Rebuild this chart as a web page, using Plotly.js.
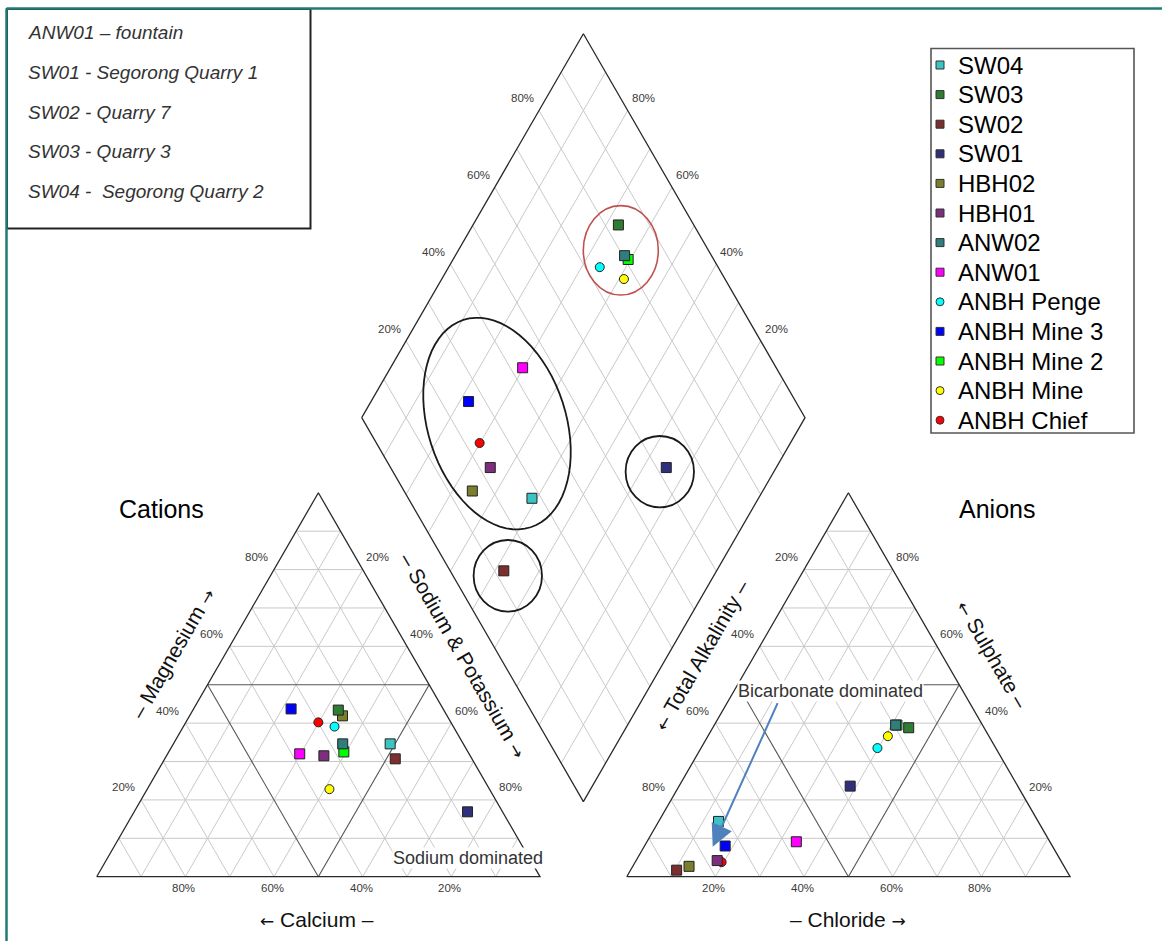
<!DOCTYPE html>
<html><head><meta charset="utf-8">
<script src="https://cdn.plot.ly/plotly-3.0.1.min.js"></script>
<style>html,body{margin:0;padding:0;background:#fff}#chart{width:1162px;height:941px}</style>
</head><body><div id="chart"></div>
<script>
// ---------------- data ----------------
const samples = ['SW04','SW03','SW02','SW01','HBH02','HBH01','ANW02','ANW01','ANBH Penge','ANBH Mine 3','ANBH Mine 2','ANBH Mine','ANBH Chief'];
const symbols = ['square','square','square','square','square','square','square','square','circle','square','square','circle','circle'];
const colors  = ['#3cc3c3','#2f7d33','#7d2f2f','#2f2f7d','#7d7d2f','#7d2f7d','#2f7d7d','#ff00ff','#00ffff','#0000ff','#00ff00','#ffff00','#ff0000'];
// cations (% meq)
const caPct  = [16.5, 23.8, 17.3,  7.9, 23.6, 33.0, 27.2, 38.2, 26.8, 34.3, 28.0, 36.1, 29.9];
const mgPct  = [34.6, 43.4, 30.7, 16.9, 41.9, 31.5, 34.6, 32.0, 39.1, 43.7, 32.5, 22.8, 40.2];
const naPct  = [48.9, 32.8, 52.0, 75.2, 34.5, 35.5, 38.2, 29.8, 34.1, 22.0, 39.5, 41.1, 29.9];
// anions (% meq)
const alkPct = [72.1, 17.0, 87.9, 37.8, 84.6, 77.5, 19.6, 57.2, 26.7, 73.8, 19.3, 22.8, 76.7];
const so4Pct = [14.4, 38.8,  1.7, 23.6,  2.7,  4.2, 39.5,  9.1, 33.5,  8.0, 39.5, 36.6,  3.8];
const clPct  = [13.5, 44.2, 10.4, 38.6, 12.7, 18.3, 40.9, 33.7, 39.8, 18.2, 41.2, 40.6, 19.5];
const tickPct = [20, 40, 60, 80];
const sampleNotes = ['ANW01 \u2013 fountain','SW01 - Segorong Quarry 1','SW02 - Quarry 7','SW03 - Quarry 3','SW04 -\u00a0 Segorong Quarry 2'];

// ---------------- geometry ----------------
const H = Math.sqrt(3)/2, GAP = 0.1957, OX = 1 + GAP;
const PXU = 443.3, X0 = 96.7, Y0 = 876.7;
const ux = px => (px - X0)/PXU, uy = py => (Y0 - py)/PXU;
function catXY(ca, mg, na){ const s = ca+mg+na; mg/=s; na/=s; return [na + mg/2, mg*H]; }
function anXY(alk, so4, cl){ const s = alk+so4+cl; so4/=s; cl/=s; return [OX + cl + so4/2, so4*H]; }
function diaXY(na, alk){ return [(na + 2 + GAP - alk)/2, H*(2 + GAP - alk - na)]; }

const grid = {x:[], y:[]}, major = {x:[], y:[]}, outline = {x:[], y:[]};
function seg(o, p, q){ o.x.push(p[0], q[0], null); o.y.push(p[1], q[1], null); }
for (const ox of [0, OX]) {
  for (let i = 1; i <= 9; i++) {
    const t = i/10, o = (i === 5) ? major : grid;
    seg(o, [ox + t/2, t*H], [ox + 1 - t/2, t*H]);
    seg(o, [ox + t, 0], [ox + t + (1-t)/2, (1-t)*H]);
    seg(o, [ox + 1 - t, 0], [ox + (1-t)/2, (1-t)*H]);
  }
  outline.x.push(ox, ox+1, ox+0.5, ox, null); outline.y.push(0, 0, H, 0, null);
}
for (let i = 1; i <= 9; i++) {
  const t = i/10;
  seg(grid, diaXY(t, 1), diaXY(t, 0));
  seg(grid, diaXY(0, t), diaXY(1, t));
}
[[0,1],[1,1],[1,0],[0,0],[0,1]].forEach(p => { const d = diaXY(p[0], p[1]); outline.x.push(d[0]); outline.y.push(d[1]); });

const traces = [
  {x: grid.x, y: grid.y, mode:'lines', line:{color:'#c9c9c9', width:1}, hoverinfo:'skip'},
  {x: major.x, y: major.y, mode:'lines', line:{color:'#555555', width:1.1}, hoverinfo:'skip'},
  {x: outline.x, y: outline.y, mode:'lines', line:{color:'#2a2a2a', width:1.3}, hoverinfo:'skip'}
];
for (let i = samples.length - 1; i >= 0; i--) {
  const c = catXY(caPct[i], mgPct[i], naPct[i]);
  const a = anXY(alkPct[i], so4Pct[i], clPct[i]);
  const s = alkPct[i] + so4Pct[i] + clPct[i], sc = caPct[i] + mgPct[i] + naPct[i];
  const d = diaXY(naPct[i]/sc, alkPct[i]/s);
  traces.push({x:[c[0], a[0], d[0]], y:[c[1], a[1], d[1]], mode:'markers', name: samples[i],
    marker:{symbol: symbols[i], color: colors[i], size: symbols[i] === 'circle' ? 9 : 10, line:{color:'#222', width:1}}});
}

// ---------------- annotations ----------------
const ann = [];
const tickFont = {family:'Liberation Sans, Arial, sans-serif', size:11.5, color:'#3a3a3a'};
function tick(x, y, txt, xs, ys){ ann.push({x, y, text: txt, showarrow:false, xshift: xs, yshift: ys, font: tickFont, xanchor:'center', yanchor:'middle'}); }
tickPct.forEach(p => {
  const f = p/100;
  tick(1 - f, 0, p + '%', -1.5, -11.6);                       // Ca
  tick(f/2, f*H, p + '%', -17.7, 12.6);                       // Mg
  tick(f + (1-f)/2, (1-f)*H, p + '%', 14.8, 12.6);            // Na+K
  tick(OX + f, 0, p + '%', -1.5, -11.6);                      // Cl
  tick(OX + (1-f)/2, (1-f)*H, p + '%', -17.7, 12.6);          // Alk
  tick(OX + (1-f) + f/2, f*H, p + '%', 14.8, 12.6);           // SO4
  const dl = diaXY(0, 1 - f); tick(dl[0], dl[1], p + '%', -16.7, 12.2);  // SO4+Cl
  const dr = diaXY(1 - f, 0); tick(dr[0], dr[1], p + '%', 15.6, 12.2);   // Ca+Mg
});
const titleFont = {family:'Liberation Sans, Arial, sans-serif', size:21, color:'#111'};
const AR = '<span style="font-family:DejaVu Sans;font-size:17px">\u2192</span>';
const AL = '<span style="font-family:DejaVu Sans;font-size:17px">\u2190</span>';
function lab(px, py, txt, font, ang, extra){ ann.push(Object.assign({x: ux(px), y: uy(py), text: txt, showarrow:false, font, textangle: ang || 0, xanchor:'center', yanchor:'middle'}, extra || {})); }
lab(161.7, 509.3, 'Cations', {family:'Liberation Sans, Arial, sans-serif', size:25, color:'#000'});
lab(996.7, 509.3, 'Anions', {family:'Liberation Sans, Arial, sans-serif', size:25, color:'#000'});
lab(316.7, 919.3, AL + ' Calcium \u2013', titleFont);
lab(847.5, 919.3, '\u2013 Chloride ' + AR, titleFont);
lab(172.7, 653.7, '\u2013 Magnesium ' + AR, titleFont, -60);
lab(463.3, 655.5, '\u2013 Sodium &amp; Potassium ' + AR, titleFont, 60);
lab(701.2, 655.5, AL + ' Total Alkalinity \u2013', titleFont, -60);
lab(992.5, 654.5, AL + ' Sulphate \u2013', titleFont, 60);
const noteTxt = {family:'Liberation Sans, Arial, sans-serif', size:18, color:'#333'};
lab(468.3, 858.3, 'Sodium dominated', noteTxt, 0, {bgcolor:'#fff', borderpad:0});
lab(830.5, 690.7, 'Bicarbonate dominated', noteTxt, 0, {bgcolor:'#fff', borderpad:0});
ann.push({x: ux(712.7), y: uy(846.7), ax: 65.6, ay: -145, text:'', showarrow:true, arrowhead:2, arrowsize:2.2, arrowwidth:2, arrowcolor:'#4f81bd', standoff:0});

// notes box
const noteFont = {family:'Liberation Sans, Arial, sans-serif', size:19, color:'#333'};
sampleNotes.forEach((t, i) => ann.push({x: ux(26), y: uy(32.3 + 39.85*i), text: '<i>' + t + '</i>', showarrow:false, xanchor:'left', yanchor:'middle', font: noteFont}));

// legend
const shapes = [];
const legFont = {family:'Liberation Sans, Arial, sans-serif', size:24, color:'#000'};
samples.forEach((s, i) => {
  const cy = 65 + 29.6*i, cx = 940, r = 4;
  ann.push({x: ux(956), y: uy(cy), text: s, showarrow:false, xanchor:'left', yanchor:'middle', font: legFont});
  shapes.push({type: symbols[i] === 'circle' ? 'circle' : 'rect', xref:'x', yref:'y',
    x0: ux(cx - r), x1: ux(cx + r), y0: uy(cy + r), y1: uy(cy - r), fillcolor: colors[i], line:{color:'#333', width:1}});
});
shapes.push({type:'rect', xref:'x', yref:'y', x0: ux(931), x1: ux(1134), y0: uy(433), y1: uy(48.5), line:{color:'#555', width:1.6}, fillcolor:'rgba(0,0,0,0)', layer:'below'});
shapes.push({type:'rect', xref:'x', yref:'y', x0: ux(7), x1: ux(310.5), y0: uy(228.5), y1: uy(9), line:{color:'#222', width:2}, fillcolor:'rgba(0,0,0,0)'});
// page frame (teal)
shapes.push({type:'line', xref:'x', yref:'y', x0: ux(6.5), x1: ux(1162), y0: uy(8.5), y1: uy(8.5), line:{color:'#217a74', width:2.5}});
shapes.push({type:'line', xref:'x', yref:'y', x0: ux(6.5), x1: ux(6.5), y0: uy(8.5), y1: uy(941), line:{color:'#217a74', width:2.5}});

// group ellipses
function ellipseShape(cx, cy, rx, ry, color, w){ return {type:'circle', xref:'x', yref:'y', x0: ux(cx - rx), x1: ux(cx + rx), y0: uy(cy + ry), y1: uy(cy - ry), line:{color, width:w}}; }
shapes.push(ellipseShape(620.8, 250.3, 37.5, 44.7, '#c0504d', 1.6));
shapes.push(ellipseShape(659.8, 471.7, 34.2, 35.7, '#1a1a1a', 1.8));
shapes.push(ellipseShape(507.8, 575.8, 34.2, 35.8, '#1a1a1a', 1.8));
(function(){
  const cx = 497, cy = 423.6, a = 109, b = 69, psi = 18*Math.PI/180;
  let p = '';
  for (let k = 0; k <= 72; k++) {
    const th = 2*Math.PI*k/72;
    const u = b*Math.cos(th), v = a*Math.sin(th);
    const px = cx + u*Math.cos(psi) + v*Math.sin(psi);
    const py = cy - u*Math.sin(psi) + v*Math.cos(psi);
    p += (k ? ' L ' : 'M ') + ux(px).toFixed(5) + ',' + uy(py).toFixed(5);
  }
  shapes.push({type:'path', xref:'x', yref:'y', path: p + ' Z', line:{color:'#1a1a1a', width:1.8}});
})();

const layout = {
  width:1162, height:941, margin:{l:0, r:0, t:0, b:0}, showlegend:false, hovermode:false,
  paper_bgcolor:'#fff', plot_bgcolor:'#fff',
  xaxis:{range:[ux(0), ux(1162)], visible:false, fixedrange:true},
  yaxis:{range:[uy(941), uy(0)], visible:false, fixedrange:true},
  annotations: ann, shapes
};
Plotly.newPlot('chart', traces, layout, {staticPlot:true, displayModeBar:false});
</script></body></html>
